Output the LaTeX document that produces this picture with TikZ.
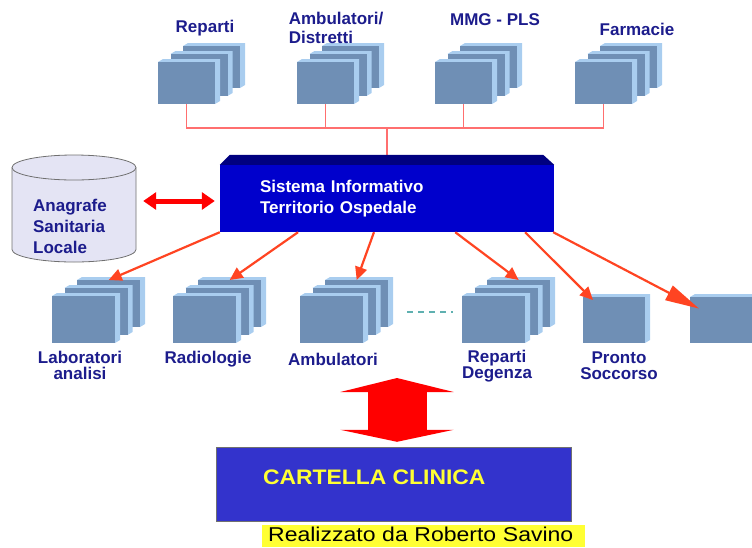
\documentclass[tikz,border=0pt]{standalone}
\usepackage{fontspec}
\setmainfont{Liberation Sans}
\usetikzlibrary{arrows.meta,calc}

\definecolor{boxfront}{HTML}{6F8FB5}
\definecolor{boxedge}{HTML}{A9CDEF}
\definecolor{sioblue}{HTML}{0000CC}
\definecolor{siotop}{HTML}{000080}
\definecolor{lblue}{HTML}{1C1C8C}
\definecolor{arrred}{HTML}{FF4422}
\definecolor{busred}{HTML}{FF6F6F}
\definecolor{cylfill}{HTML}{E4E4F4}
\definecolor{cylline}{HTML}{707070}
\definecolor{ccblue}{HTML}{3333CC}
\definecolor{ccyellow}{HTML}{FFFF33}
\definecolor{dashteal}{HTML}{5FB0B0}

\tikzset{
  panel/.style={rectangle, fill=boxfront, inner sep=0pt, anchor=north west},
  lbl/.style={text=lblue, font=\bfseries\fontsize{17}{20}\selectfont, align=center, inner sep=0pt},
  bus/.style={draw=busred, line width=1.2pt},
  feed/.style={draw=arrred, line width=2.2pt, -{Triangle[length=13pt,width=12pt]}},
  dblarr/.style={draw=red, line width=5pt, {Triangle[length=13pt,width=17pt]}-{Triangle[length=13pt,width=17pt]}},
  bigred/.style={draw=red, line width=59pt, {Triangle[length=14pt,width=113pt]}-{Triangle[length=12pt,width=113pt]}},
  dashline/.style={draw=dashteal, line width=1.2pt, dash pattern=on 6pt off 5pt}
}

% one panel: name, x, y, width, height
\newcommand{\panelbox}[5]{%
  \fill[boxedge] (#2,#3) -- ++(5,-3) -- ++(#4,0) -- ++(0,#5) -- ++(-5,3) -- ++(0,-#5) -- cycle;
  \node[panel, minimum width=#4pt, minimum height=#5pt] (#1) at (#2,#3) {};}
% three panels, back to front
\newcommand{\stackbox}[5]{%
  \panelbox{#1c}{#2+25}{#3-16}{#4}{#5}
  \panelbox{#1b}{#2+12.5}{#3-8}{#4}{#5}
  \panelbox{#1}{#2}{#3}{#4}{#5}}

\begin{document}
\begin{tikzpicture}[x=1pt,y=-1pt]
  \useasboundingbox (0,0) rectangle (752,547);

  % top: territorial services
  \coordinate (bus) at (387,128);
  \stackbox{rep}{158}{62}{57}{42}
  \stackbox{amb}{297}{62}{57}{42}
  \stackbox{mmg}{435}{62}{57}{42}
  \stackbox{far}{575}{62}{57}{42}
  \node[lbl] (lrep) at (205,28) {Reparti};
  \node[lbl, align=left, font=\bfseries\fontsize{17}{19}\selectfont] (lamb) at (336,28) {Ambulatori/\\Distretti};
  \node[lbl] (lmmg) at (495,20) {MMG - PLS};
  \node[lbl] (lfar) at (637,29) {Farmacie};
  \draw[bus] (rep.south) |- (bus);
  \draw[bus] (amb.south) |- (bus);
  \draw[bus] (mmg.south) |- (bus);
  \draw[bus] (far.south) |- (bus);

  % central system
  \node[rectangle, fill=sioblue, minimum width=334pt, minimum height=67pt, inner xsep=40pt,
        text width=254pt, align=left, text=white, font=\bfseries\fontsize{17}{21}\selectfont]
        (sio) at (387,198.5) {Sistema Informativo\\Territorio Ospedale};
  \coordinate (siotop) at ($(sio.north)+(0,-10)$);
  \draw[bus] (bus) -- (siotop);
  \fill[siotop] (sio.north west) -- ++(10,-10) -- ($(sio.north east)+(-11,-10)$) -- (sio.north east) -- cycle;

  % registry
  \node[minimum width=124pt, minimum height=107pt, inner sep=0pt] (asl) at (74,208.5) {};
  \filldraw[draw=cylline, fill=cylfill, line width=0.8pt] (12,167.5) -- (12,249.5)
    arc[start angle=180, end angle=360, x radius=62pt, y radius=12.5pt] -- (136,167.5)
    arc[start angle=0, end angle=180, x radius=62pt, y radius=12.5pt] -- cycle;
  \draw[cylline, line width=0.8pt] (12,167.5) arc[start angle=180, end angle=360, x radius=62pt, y radius=12.5pt];
  \node[lbl, align=left, font=\bfseries\fontsize{17}{21}\selectfont] (lasl) at (70,226) {Anagrafe\\Sanitaria\\Locale};
  \draw[dblarr, shorten <=7pt, shorten >=5pt] (asl.east |- 0,201) -- (sio.west |- 0,201);

  % hospital services
  \stackbox{lab}{52}{296}{63}{47}
  \stackbox{rad}{173}{296}{63}{47}
  \stackbox{amh}{300}{296}{63}{47}
  \stackbox{rd}{462}{296}{63}{47}
  \panelbox{ps}{583}{297}{62}{46}
  \panelbox{ext}{690}{297}{62}{46}
  \draw[dashline, shorten <=19pt, shorten >=9pt] (amhc.east |- 0,312) -- (rd.west |- 0,312);
  \node[lbl, font=\bfseries\fontsize{17}{16}\selectfont] (llab) at (80,365) {Laboratori\\analisi};
  \node[lbl] (lrad) at (208,359) {Radiologie};
  \node[lbl] (lamh) at (333,359) {Ambulatori};
  \node[lbl, font=\bfseries\fontsize{17}{16}\selectfont] (lrd) at (497,366) {Reparti\\Degenza};
  \node[lbl, font=\bfseries\fontsize{17}{16}\selectfont] (lps) at (619,366) {Pronto\\Soccorso};

  \foreach \f/\t in {0/labc, 0.234/radc, 0.461/amhc, 0.704/rdc}
    \draw[feed] ($(sio.south west)!\f!(sio.south east)$) -- (\t.north);
  \draw[feed] ($(sio.south west)!0.913!(sio.south east)$) -- ($(ps.north west)+(10,3)$);
  \draw[feed, -{Triangle[length=34pt,width=16pt]}, shorten >=25pt]
    ($(sio.south west)!0.997!(sio.south east)$) -- (ext.center);

  % clinical record
  \node[rectangle, fill=ccblue, draw=cylline, minimum width=355pt, minimum height=74pt] (cc) at (393.5,484) {};
  \node[anchor=west, inner sep=0pt, text=ccyellow,
        font=\bfseries\fontsize{21}{24}\selectfont\addfontfeatures{FakeStretch=1.09}]
        (lcc) at ($(cc.west)+(47,-7)$) {CARTELLA CLINICA};
  \coordinate (ehrtop) at (397,378);
  \draw[bigred, shorten >=5pt] (ehrtop) -- (ehrtop |- cc.north);

  \node[anchor=base west, fill=ccyellow, text height=15pt, text depth=5pt, inner ysep=1pt, inner xsep=6pt,
        text width=311pt, align=left,
        font=\fontsize{20}{22}\selectfont\addfontfeatures{FakeStretch=1.15}] (sign) at (262,541)
        {Realizzato da Roberto Savino};
\end{tikzpicture}
\end{document}
